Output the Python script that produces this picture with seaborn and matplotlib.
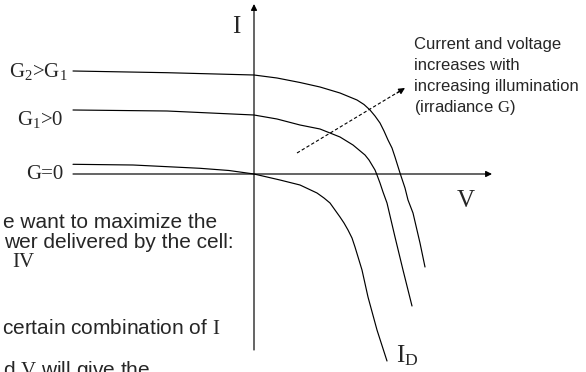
import matplotlib
matplotlib.use("Agg")
import matplotlib.pyplot as plt
import pandas as pd
import seaborn as sns

# I-V curves (V, I in arbitrary units, origin at the axes crossing)
g2_v = [-181, -87, 0, 23, 46, 66, 86, 103, 110, 116, 121, 126, 130, 134, 138, 141, 146, 151, 154, 159, 166, 171]
g2_i = [103, 101.3, 99, 96, 91.5, 87, 81, 74, 69.5, 64, 58, 51, 43, 34, 26, 17, 1, -14, -26, -39, -69, -93]

g1_v = [-181, -87, 0, 23, 46, 66, 86, 99, 105, 111, 115, 118, 121, 123, 126, 129, 133, 141, 149, 158]
g1_i = [64, 63, 59, 55, 49, 45, 37, 29, 24, 19, 14, 9, 4, -1, -9, -18, -29, -63, -96, -132]

g0_v = [-181, -121, -54, -25, 0, 26, 46, 63, 70, 76, 81, 86, 90, 94, 98, 101, 108, 114, 123, 133]
g0_i = [9.7, 9, 5.7, 3.5, 0, -6, -11, -19, -24, -29, -36, -43, -49, -56, -64, -73, -96, -123, -156, -187]

curve_names = ["G2>G1", "G1>0", "G=0"]
curve_labels = ["G$_2$>G$_1$", "G$_1$>0", "G=0"]
label_pos = [(-186, 97), (-191, 49), (-191, -5)]

note_lines = ["Current and voltage", "increases with",
              "increasing illumination", r"(irradiance $\mathrm{G}$)"]
body_lines = ["e want to maximize the", "wer delivered by the cell:", "IV",
              r"certain combination of $\mathrm{I}$", r"d $\mathrm{V}$ will give the"]


def main() -> None:
    sns.set_theme(style="white")
    plt.rcParams["mathtext.fontset"] = "custom"
    plt.rcParams["mathtext.rm"] = "Liberation Serif"
    plt.rcParams["mathtext.it"] = "Liberation Serif:italic"
    plt.rcParams["font.family"] = ["Liberation Sans", "DejaVu Sans"]

    frames = []
    for name, v, i in [(curve_names[0], g2_v, g2_i),
                       (curve_names[1], g1_v, g1_i),
                       (curve_names[2], g0_v, g0_i)]:
        frames.append(pd.DataFrame({"V": v, "I": i, "curve": name}))
    df = pd.concat(frames, ignore_index=True)

    fig = plt.figure(figsize=(5.86, 3.72), dpi=100)
    ax = fig.add_axes([0, 0, 1, 1])
    sns.lineplot(data=df, x="V", y="I", hue="curve", palette=["black"] * 3,
                 sort=False, estimator=None, linewidth=0.85, legend=False, ax=ax)

    ax.set_xlim(-254, 332)
    ax.set_ylim(-198, 174)
    ax.set_axis_off()

    arrow = dict(arrowstyle="-|>", color="black", lw=0.85, shrinkA=0, shrinkB=0,
                 mutation_scale=9)
    # axes
    ax.annotate("", xy=(238, 0), xytext=(-181, 0), arrowprops=arrow)
    ax.annotate("", xy=(0, 170), xytext=(0, -176), arrowprops=arrow)

    # dashed "increasing G" arrow
    ax.plot([43, 146], [21, 83], color="black", lw=0.8, ls=(0, (3, 2)))
    ax.annotate("", xy=(151, 86), xytext=(143, 81), arrowprops=arrow)

    serif = "Liberation Serif"
    ax.text(-18, 141, "I", fontsize=18, family=serif, ha="center", va="baseline")
    ax.text(212, -33, "V", fontsize=18, family=serif, ha="center", va="baseline")
    ax.text(142, -188, r"$\mathrm{I_D}$", fontsize=18, ha="left", va="baseline")

    for lab, (x, y) in zip(curve_labels, label_pos):
        ax.text(x, y, lab, fontsize=15, family=serif, ha="right", va="baseline")

    for k, line in enumerate(note_lines):
        ax.text(160, 125 - 21 * k, line, fontsize=12, ha="left", va="baseline")

    body_x = [-251, -250, -242, -252, -251]
    body_y = [-54, -74, -93, -160, -202]
    for line, x, y in zip(body_lines, body_x, body_y):
        fam = serif if line == "IV" else "Liberation Sans"
        ax.text(x, y, line, fontsize=15, family=fam, ha="left", va="baseline")

    fig.savefig("out.png", dpi=100)
    plt.close(fig)


if __name__ == "__main__":
    main()
